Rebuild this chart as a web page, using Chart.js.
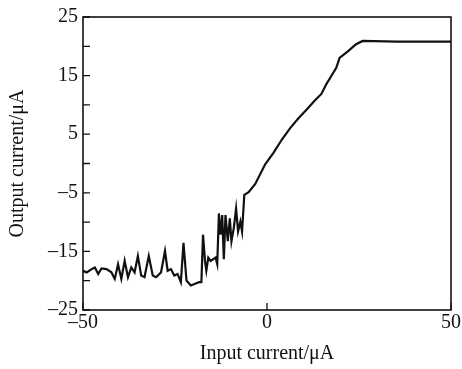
<!DOCTYPE html>
<html lang="en">
<head>
    <meta charset="UTF-8">
    <title>Input vs output current</title>
    <script src="https://cdn.jsdelivr.net/npm/chart.js"></script>
    <style>
        html, body {
            margin: 0;
            padding: 0;
            background: white;
        }
        #wrap {
            width: 462px;
            height: 369px;
        }
    </style>
</head>
<body>
    <div id="wrap"><canvas id="chart1"></canvas></div>

    <script>
        // values
        const inputCurrent = [
            -50, -49.0, -47.66, -46.77, -45.87, -44.97, -43.62, -42.27, -41.37, -40.48,
            -39.58, -38.68, -37.78, -36.88, -35.98, -35.09, -34.19, -33.29, -32.12, -31.04,
            -30.14, -28.8, -27.72, -27.0, -26.1, -25.2, -24.3, -23.41, -22.69, -21.88,
            -20.71, -18.46, -17.83, -17.39, -16.85, -16.49, -15.95, -15.32, -13.97, -13.52,
            -13.07, -12.62, -12.17, -11.73, -11.28, -10.65, -10.11, -9.66, -9.03, -8.4,
            -7.86, -7.23, -6.78, -6.16, -5.0, -3.19, -0.5, 1.75, 4.0, 6.24,
            8.49, 10.74, 12.98, 14.78, 16.13, 17.48, 18.82, 19.72, 21.97, 24.21,
            26.01, 35.4, 50
        ];
        const outputCurrent = [
            -18.3, -18.58, -18.02, -17.74, -18.85, -17.91, -18.02, -18.58, -19.69, -17.18,
            -19.69, -16.62, -19.41, -17.74, -18.58, -15.78, -19.13, -19.41, -15.78, -19.13,
            -19.41, -18.58, -14.94, -18.3, -18.02, -19.13, -18.85, -20.25, -13.55, -19.97,
            -20.81, -20.25, -20.25, -12.15, -16.62, -18.3, -16.06, -16.62, -16.06, -17.18,
            -8.52, -12.15, -8.8, -16.34, -8.8, -13.27, -9.36, -13.27, -11.03, -7.68,
            -11.59, -9.92, -11.59, -5.34, -4.9, -3.49, -0.14, 1.82, 4.05, 6.0,
            7.68, 9.19, 10.75, 11.87, 13.55, 14.94, 16.34, 18.02, 19.13, 20.36,
            20.92, 20.8, 20.8
        ];
        const xTicks = [-50, 0, 50];
        const yTicks = [-25, -20, -15, -10, -5, 0, 5, 10, 15, 20, 25];
        const yLabelled = [-25, -15, -5, 5, 15, 25];

        const serif = '"Liberation Serif", "DejaVu Serif", serif';

        function dash(v) {
            return v < 0 ? '\u2013' + Math.abs(v) : String(v);
        }

        // frame round the plot and short inward tick marks
        const framePlugin = {
            id: 'frame',
            afterDraw(chart) {
                const ctx = chart.ctx;
                const a = chart.chartArea;
                const xs = chart.scales.x;
                const ys = chart.scales.y;
                ctx.save();
                ctx.strokeStyle = '#111';
                ctx.lineWidth = 1.6;
                ctx.strokeRect(a.left, a.top, a.right - a.left, a.bottom - a.top);
                ctx.lineWidth = 1.3;
                ctx.beginPath();
                yTicks.forEach(v => {
                    const y = ys.getPixelForValue(v);
                    ctx.moveTo(a.left, y);
                    ctx.lineTo(a.left + 7, y);
                });
                xTicks.forEach(v => {
                    const x = xs.getPixelForValue(v);
                    ctx.moveTo(x, a.bottom);
                    ctx.lineTo(x, a.bottom - 7);
                });
                ctx.stroke();
                ctx.restore();
            }
        };

        const ctx = document.getElementById('chart1').getContext('2d');
        const chart1 = new Chart(ctx, {
            type: 'scatter',
            data: {
                datasets: [{
                    label: 'Output current',
                    data: inputCurrent.map((x, i) => ({ x: x, y: outputCurrent[i] })),
                    showLine: true,
                    borderColor: '#111',
                    borderWidth: 2.2,
                    pointRadius: 0,
                    tension: 0
                }]
            },
            options: {
                responsive: true,
                maintainAspectRatio: false,
                animation: false,
                layout: {
                    padding: { left: 0, top: 12, right: 8, bottom: 0 }
                },
                plugins: {
                    legend: { display: false },
                    tooltip: { enabled: false }
                },
                scales: {
                    x: {
                        type: 'linear',
                        min: -50,
                        max: 50,
                        afterBuildTicks: scale => {
                            scale.ticks = xTicks.map(v => ({ value: v }));
                        },
                        afterFit: scale => { scale.height = 59; },
                        grid: { display: false, drawTicks: false },
                        border: { display: false },
                        ticks: {
                            color: '#111',
                            padding: 1,
                            maxRotation: 0,
                            font: { family: serif, size: 20 },
                            callback: v => dash(v)
                        },
                        title: {
                            display: true,
                            text: 'Input current/\u03bcA',
                            color: '#111',
                            font: { family: serif, size: 20 },
                            padding: { top: 4, bottom: 3 }
                        }
                    },
                    y: {
                        type: 'linear',
                        min: -25,
                        max: 25,
                        afterBuildTicks: scale => {
                            scale.ticks = yTicks.map(v => ({ value: v }));
                        },
                        afterFit: scale => { scale.width = 83; },
                        grid: { display: false, drawTicks: false },
                        border: { display: false },
                        ticks: {
                            color: '#111',
                            padding: 5,
                            font: { family: serif, size: 20 },
                            callback: v => yLabelled.includes(v) ? dash(v) : ''
                        },
                        title: {
                            display: true,
                            text: 'Output current/\u03bcA',
                            color: '#111',
                            font: { family: serif, size: 20 },
                            padding: { top: 6, bottom: 4 }
                        }
                    }
                }
            },
            plugins: [framePlugin]
        });
    </script>
</body>
</html>
